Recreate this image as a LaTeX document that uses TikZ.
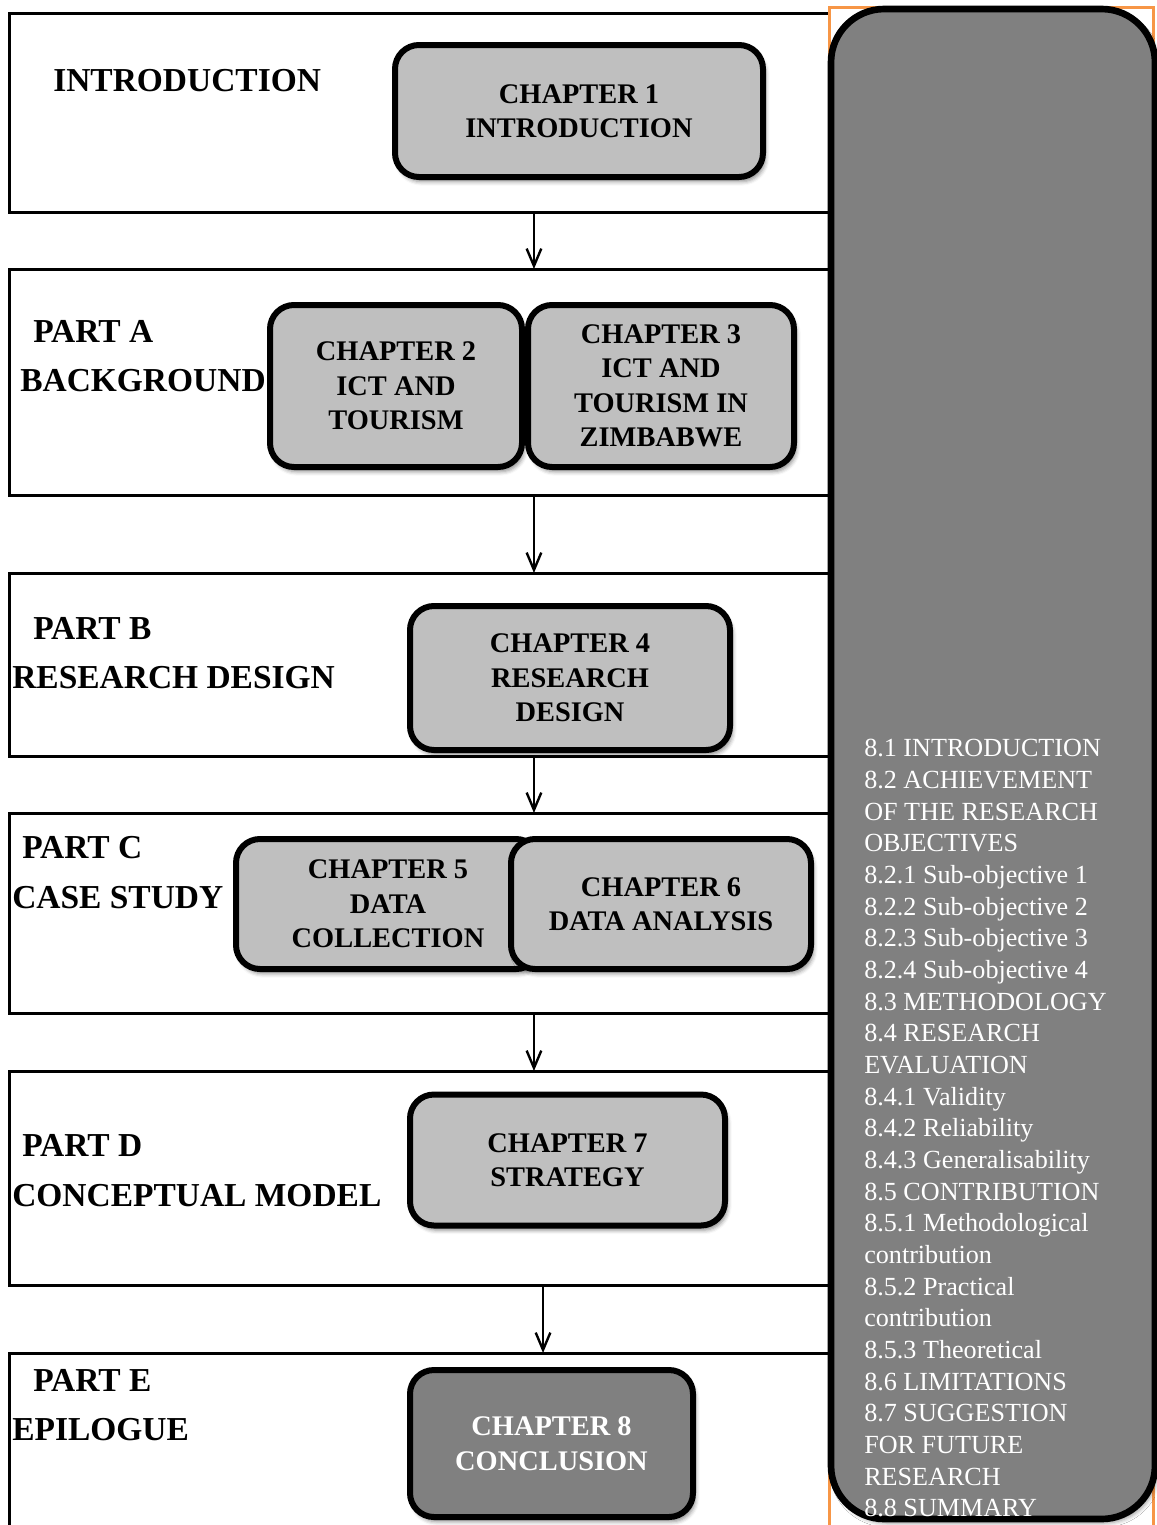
\documentclass[tikz,border=0pt]{standalone}
\usepackage{fontspec}
\setmainfont{Liberation Serif}
\usetikzlibrary{arrows.meta,shadows.blur}
\definecolor{chapgray}{RGB}{191,191,191}
\definecolor{darkgray}{RGB}{128,128,128}
\definecolor{frameorange}{RGB}{247,150,70}
\begin{document}
\begin{tikzpicture}[x=0.75pt,y=-0.75pt,
  partbox/.style={draw=black,line width=2.25pt,inner sep=0pt,outer sep=0pt,anchor=north west,minimum width=623.25pt},
  partlabel/.style={anchor=west,inner sep=0pt,font=\bfseries\fontsize{25.1}{30}\selectfont},
  chapbox/.style={draw=black,line width=4.5pt,rounded corners=18pt,fill=chapgray,align=center,
    inner sep=0pt,font=\bfseries\fontsize{21.3}{25.9}\selectfont,
    blur shadow={shadow xshift=2pt,shadow yshift=-3.5pt,shadow blur radius=3pt,shadow opacity=45}},
  flow/.style={line width=1.8pt,-{Straight Barb[length=13pt,width=11pt,line width=1.8pt]}}
]
\useasboundingbox (0,0) rectangle (1157,1525);
\clip (0,0) rectangle (1157,1525);

% part frames
\node[partbox,minimum height=149.25pt] (p0) at (9,13) {};
\node[partbox,minimum height=169.5pt] (pA) at (9,269) {};
\node[partbox,minimum height=137.25pt] (pB) at (9,573) {};
\node[partbox,minimum height=150pt] (pC) at (9,813) {};
\node[partbox,minimum height=160.5pt] (pD) at (9,1071) {};
\node[partbox,minimum height=187.5pt] (pE) at (9,1353) {};

% flow between parts
\draw[flow] ([xshift=82.1pt]p0.south) -- ([xshift=82.1pt]pA.north);
\draw[flow] ([xshift=82.1pt]pA.south) -- ([xshift=82.1pt]pB.north);
\draw[flow] ([xshift=82.1pt]pB.south) -- ([xshift=82.1pt]pC.north);
\draw[flow] ([xshift=82.1pt]pC.south) -- ([xshift=82.1pt]pD.north);
\draw[flow] ([xshift=88.9pt]pD.south) -- ([xshift=88.9pt]pE.north);

% part labels
\node[partlabel] (l0) at (53,81) {INTRODUCTION};
\node[partlabel] (lA1) at (33,331) {PART A};
\node[partlabel] (lA2) at (20,381) {BACKGROUND};
\node[partlabel] (lB1) at (33,628) {PART B};
\node[partlabel] (lB2) at (12,678) {RESEARCH DESIGN};
\node[partlabel] (lC1) at (22,848) {PART C};
\node[partlabel] (lC2) at (12,898) {CASE STUDY};
\node[partlabel] (lD1) at (22,1145) {PART D};
\node[partlabel] (lD2) at (12,1196) {CONCEPTUAL MODEL};
\node[partlabel] (lE1) at (33,1380) {PART E};
\node[partlabel] (lE2) at (12,1430) {EPILOGUE};

% chapters
\node[chapbox,minimum width=276pt,minimum height=99pt] (c1) at (579,111) {CHAPTER 1\\INTRODUCTION};
\node[chapbox,minimum width=189pt,minimum height=121.5pt] (c2) at (396,386) {CHAPTER 2\\ICT AND\\TOURISM};
\node[chapbox,minimum width=199.5pt,minimum height=121.5pt] (c3) at (661,386) {CHAPTER 3\\ICT AND\\TOURISM IN\\ZIMBABWE};
\node[chapbox,minimum width=240pt,minimum height=108pt] (c4) at (570,678) {CHAPTER 4\\RESEARCH\\DESIGN};
\node[chapbox,minimum width=228pt,minimum height=97.5pt] (c5) at (388,904) {CHAPTER 5\\DATA\\COLLECTION};
\node[chapbox,minimum width=225pt,minimum height=97.5pt] (c6) at (661,904) {CHAPTER 6\\DATA ANALYSIS};
\node[chapbox,minimum width=236.25pt,minimum height=98.25pt] (c7) at (567.5,1160) {CHAPTER 7\\STRATEGY};
\node[chapbox,fill=darkgray,text=white,minimum width=212.25pt,minimum height=110.25pt] (c8) at (551.5,1443.5) {CHAPTER 8\\CONCLUSION};

% chapter 8 contents panel
\draw[frameorange,line width=2.25pt,fill=white] (829,7) rectangle (1153,1540);
\draw[line width=5pt,fill=darkgray,rounded corners=40pt,
  blur shadow={shadow xshift=2pt,shadow yshift=-3pt,shadow blur radius=3pt,shadow opacity=40}]
  (831,9) rectangle (1155,1519);
\node[anchor=north west,inner sep=0pt,align=left,text=white,
  font=\fontsize{19.6}{23.75}\selectfont] (summary) at (864,739) {%
8.1 INTRODUCTION\\
8.2 ACHIEVEMENT\\
OF THE RESEARCH\\
OBJECTIVES\\
8.2.1 Sub-objective 1\\
8.2.2 Sub-objective 2\\
8.2.3 Sub-objective 3\\
8.2.4 Sub-objective 4\\
8.3 METHODOLOGY\\
8.4 RESEARCH\\
EVALUATION\\
8.4.1 Validity\\
8.4.2 Reliability\\
8.4.3 Generalisability\\
8.5 CONTRIBUTION\\
8.5.1 Methodological\\
contribution\\
8.5.2 Practical\\
contribution\\
8.5.3 Theoretical\\
8.6 LIMITATIONS\\
8.7 SUGGESTION\\
FOR FUTURE\\
RESEARCH\\
8.8 SUMMARY};
\end{tikzpicture}
\end{document}
